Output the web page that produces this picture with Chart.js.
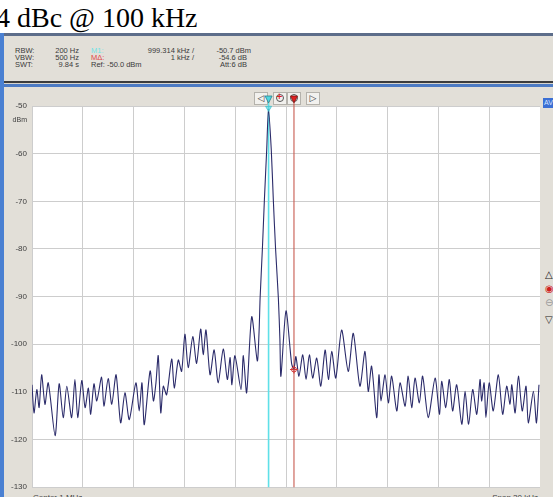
<!DOCTYPE html>
<html>
<head>
<meta charset="utf-8">
<script src="https://cdn.jsdelivr.net/npm/chart.js@4.4.1/dist/chart.umd.min.js"></script>
<style>
  html, body { margin: 0; padding: 0; background: #fff; }
  body { width: 553px; height: 497px; position: relative; overflow: hidden; font-family: "Liberation Sans", sans-serif; }
  .abs { position: absolute; }
  .title { left: -4px; top: 4px; font-family: "Liberation Serif", serif; font-size: 28px; line-height: 28px; color: #000; white-space: nowrap; }
  .frame-top { left: 0; top: 33px; width: 553px; height: 3px; background: #5d6d8a; }
  .frame-left { left: 0; top: 33px; width: 4px; height: 464px; background: #4a80d2; }
  .header { left: 4px; top: 36px; width: 549px; height: 45px; background: #e2dfd8; }
  .sep-dark { left: 4px; top: 81px; width: 549px; height: 2px; background: #3c3c3c; }
  .sep-gap { left: 4px; top: 83px; width: 549px; height: 1px; background: #d8d5ce; }
  .sep-blue { left: 4px; top: 84px; width: 549px; height: 3px; background: #4d7bc4; }
  .panel { left: 4px; top: 87px; width: 549px; height: 410px; background: #e2dfd8; }
  .t { position: absolute; font-size: 7.5px; line-height: 10px; color: #3a3a3a; white-space: nowrap; }
  .btn { position: absolute; top: 92px; height: 11px; width: 12px; background: #f2f1ee; border: 1px solid #b4b2ac; z-index: 1;
         font-family: "DejaVu Sans", sans-serif; font-size: 9px; line-height: 11px; text-align: center; color: #333; }
  .lens { position: absolute; left: 2px; top: 1px; width: 6px; height: 6px; border: 1.5px solid #555; border-radius: 50%; }
  .plus { position: absolute; left: 2px; top: -1px; width: 6px; font-size: 8px; line-height: 10px; color: #e02020; font-weight: bold; }
  .side { position: absolute; left: 545px; font-family: "DejaVu Sans", sans-serif; font-size: 10px; line-height: 10px; color: #222; }
  canvas { position: absolute; left: 4px; top: 87px; z-index: 2; }
</style>
</head>
<body>
<div class="abs title">4 dBc @ 100 kHz</div>
<div class="abs frame-top"></div>
<div class="abs header"></div>
<div class="abs sep-dark"></div>
<div class="abs sep-gap"></div>
<div class="abs sep-blue"></div>
<div class="abs panel"></div>
<div class="abs frame-left"></div>

<div class="t" style="left:15px; top:46px;">RBW:</div>
<div class="t" style="left:15px; top:53px;">VBW:</div>
<div class="t" style="left:15px; top:60px;">SWT:</div>
<div class="t" style="right:474px; top:46px;">200 Hz</div>
<div class="t" style="right:474px; top:53px;">500 Hz</div>
<div class="t" style="right:474px; top:60px;">9.84 s</div>
<div class="t" style="left:91px; top:46px; color:#6fe3e6;">M1:</div>
<div class="t" style="left:91px; top:53px; color:#e04545;">M&#916;:</div>
<div class="t" style="left:91px; top:60px;">Ref:</div>
<div class="t" style="right:359px; top:46px;">999.314 kHz /</div>
<div class="t" style="right:359px; top:53px;">1 kHz /</div>
<div class="t" style="left:107px; top:60px;">-50.0 dBm</div>
<div class="t" style="right:302px; top:46px;">-50.7 dBm</div>
<div class="t" style="right:306px; top:53px;">-54.6 dB</div>
<div class="t" style="left:220px; top:60px;">Att:</div>
<div class="t" style="right:306px; top:60px;">6 dB</div>

<div class="btn" style="left:254px;">&#9665;</div>
<div class="btn" style="left:273px;"><div class="lens"></div><div class="plus">+</div></div>
<div class="btn" style="left:287px;"><div class="lens"></div></div>
<div class="btn" style="left:306px;">&#9655;</div>

<div class="t" style="left:543px; top:98px; width:12px; height:10px; background:#3b6fd4; color:#d8e6ff; font-size:7px; padding-left:1px;">AV</div>
<div class="side" style="top:270px;">&#9651;</div>
<div class="side" style="top:284px; color:#d02020;">&#9673;</div>
<div class="side" style="top:298px; color:#9a9a9a;">&#8854;</div>
<div class="side" style="top:315px;">&#9661;</div>

<div class="t" style="left:33px; top:493px; color:#444; font-size:8px;">Center 1 MHz</div>
<div class="t" style="right:15px; top:493px; color:#444; font-size:8px;">Span 20 kHz</div>

<canvas id="spectrum" width="536" height="410"></canvas>

<script>
// Trace: frequency (kHz) and level (dBm)
const freqKHz = [
  990.00, 990.08, 990.19, 990.28, 990.38, 990.51, 990.64, 990.91, 991.07, 991.23,
  991.37, 991.56, 991.69, 991.80, 991.96, 992.09, 992.22, 992.31, 992.44, 992.55,
  992.74, 992.83, 993.00, 993.14, 993.31, 993.49, 993.66, 993.83, 994.09, 994.22,
  994.33, 994.42, 994.65, 994.78, 994.88, 994.97, 995.07, 995.17, 995.30, 995.50,
  995.60, 995.76, 995.89, 996.02, 996.15, 996.33, 996.48, 996.64, 996.74, 996.85,
  997.01, 997.17, 997.33, 997.53, 997.69, 997.80, 997.87, 997.99, 998.23, 998.32,
  998.45, 998.65, 998.87, 998.94, 998.98, 999.07, 999.15, 999.24, 999.31, 999.42,
  999.50, 999.59, 999.70, 999.76, 999.80, 1000.00, 1000.22, 1000.31, 1000.39, 1000.51,
  1000.66, 1000.79, 1000.92, 1001.05, 1001.21, 1001.37, 1001.54, 1001.67, 1001.80, 1001.96,
  1002.19, 1002.45, 1002.65, 1002.91, 1003.11, 1003.24, 1003.37, 1003.57, 1003.66, 1003.74,
  1003.90, 1004.03, 1004.16, 1004.36, 1004.49, 1004.69, 1004.81, 1004.95, 1005.08, 1005.25,
  1005.38, 1005.60, 1005.87, 1006.04, 1006.13, 1006.29, 1006.43, 1006.56, 1006.72, 1006.92,
  1007.05, 1007.19, 1007.35, 1007.51, 1007.64, 1007.70, 1007.80, 1007.87, 1008.00, 1008.16,
  1008.36, 1008.53, 1008.69, 1008.82, 1008.89, 1009.02, 1009.15, 1009.30, 1009.45, 1009.54,
  1009.74, 1009.86, 1009.96
];
const levelDbm = [
  -108.5, -114.4, -109.5, -113.3, -106.4, -112.6, -108.1, -119.2, -108.3, -115.4,
  -108.8, -115.4, -107.4, -115.4, -107.6, -113.3, -109.2, -114.7, -108.3, -111.9,
  -106.9, -113.0, -107.2, -112.6, -106.4, -116.5, -110.2, -115.8, -108.1, -114.0,
  -108.1, -116.9, -105.6, -111.9, -108.1, -102.4, -114.4, -108.8, -110.6, -103.1,
  -109.2, -103.3, -105.7, -97.9, -104.9, -98.4, -104.0, -96.8, -102.2, -97.0,
  -106.4, -101.2, -108.1, -101.0, -107.4, -102.8, -108.5, -102.4, -109.5, -102.4,
  -110.2, -94.2, -103.5, -97.3, -90.4, -80.0, -69.6, -59.2, -50.7, -59.2,
  -69.6, -80.0, -90.4, -99.0, -106.7, -93.0, -104.0, -105.3, -102.6, -106.7,
  -102.2, -107.4, -102.2, -107.1, -102.9, -108.8, -101.2, -107.4, -101.5, -107.1,
  -97.0, -105.7, -97.7, -108.8, -101.5, -109.9, -104.6, -115.4, -106.4, -111.9,
  -106.4, -112.3, -106.7, -114.0, -108.1, -113.0, -106.7, -113.3, -107.1, -112.3,
  -106.7, -115.4, -107.1, -114.7, -107.8, -113.3, -107.4, -114.0, -108.5, -116.8,
  -109.9, -116.8, -109.5, -114.7, -107.4, -111.9, -108.1, -115.4, -108.1, -114.0,
  -106.4, -114.7, -108.8, -112.6, -108.5, -114.4, -106.7, -114.0, -108.8, -116.5,
  -109.9, -116.5, -108.5
];

// Axis settings
const fStart = 990, fStop = 1010, fStep = 2;
const refLevel = -50, bottomLevel = -130, levelStep = 10;

// Markers
const m1Freq = 999.314, m1Level = -50.7;
const mDeltaFreq = 1000.314, mDeltaLevel = -105.3;

const plotBg = {
    id: 'plotBg',
    beforeDraw(chart) {
        const { ctx, chartArea: a } = chart;
        ctx.save();
        ctx.fillStyle = '#ffffff';
        ctx.fillRect(a.left, a.top, a.right - a.left, a.bottom - a.top);
        ctx.restore();
    }
};

function downTriangle(ctx, x, yTop, w, h, fill, stroke) {
    ctx.beginPath();
    ctx.moveTo(x - w / 2, yTop);
    ctx.lineTo(x + w / 2, yTop);
    ctx.lineTo(x, yTop + h);
    ctx.closePath();
    ctx.fillStyle = fill;
    ctx.fill();
    ctx.strokeStyle = stroke;
    ctx.lineWidth = 0.8;
    ctx.stroke();
}

const markers = {
    id: 'markers',
    beforeDatasetsDraw(chart) {
        const { ctx, chartArea: a, scales: { x } } = chart;
        ctx.save();
        // marker lines
        ctx.strokeStyle = '#5fe0e8';
        ctx.lineWidth = 1.6;
        ctx.beginPath();
        ctx.moveTo(x.getPixelForValue(m1Freq), a.top - 3);
        ctx.lineTo(x.getPixelForValue(m1Freq), a.bottom);
        ctx.stroke();
        ctx.strokeStyle = '#c85a50';
        ctx.lineWidth = 1.1;
        ctx.beginPath();
        ctx.moveTo(x.getPixelForValue(mDeltaFreq), a.top - 3);
        ctx.lineTo(x.getPixelForValue(mDeltaFreq), a.bottom);
        ctx.stroke();
        ctx.restore();
    },
    afterDatasetsDraw(chart) {
        const { ctx, chartArea: a, scales: { x, y } } = chart;
        ctx.save();
        const x1 = x.getPixelForValue(m1Freq);
        const x2 = x.getPixelForValue(mDeltaFreq);
        // marker flags in the toolbar
        downTriangle(ctx, x1, a.top - 10, 7, 7, '#4fd6e0', '#2a7d88');
        downTriangle(ctx, x2, a.top - 10, 7, 7, '#e02020', '#801010');
        // M1 symbol on the peak
        downTriangle(ctx, x1, y.getPixelForValue(m1Level) - 3, 6, 5, 'rgba(80,214,224,0.6)', '#40c0cc');
        // delta marker symbol
        const py = y.getPixelForValue(mDeltaLevel);
        ctx.strokeStyle = '#d03a3a';
        ctx.lineWidth = 1;
        ctx.beginPath();
        ctx.arc(x2, py, 2.5, 0, Math.PI * 2);
        ctx.moveTo(x2 - 4, py); ctx.lineTo(x2 + 4, py);
        ctx.moveTo(x2, py - 4); ctx.lineTo(x2, py + 4);
        ctx.stroke();
        // unit under the reference level
        ctx.fillStyle = '#404040';
        ctx.font = '7px "Liberation Sans"';
        ctx.textAlign = 'right';
        ctx.textBaseline = 'middle';
        ctx.fillText('dBm', a.left - 5, a.top + 14);
        ctx.restore();
    }
};

const ctx = document.getElementById('spectrum').getContext('2d');

const spectrumChart = new Chart(ctx, {
    type: 'line',
    data: {
        datasets: [{
            data: freqKHz.map((f, i) => ({ x: f, y: levelDbm[i] })),
            borderColor: '#2b2b6a',
            borderWidth: 1.1,
            pointRadius: 0,
            tension: 0.25,
            fill: false
        }]
    },
    options: {
        responsive: false,
        animation: false,
        layout: { padding: { top: 19, bottom: 7, left: 0, right: 0 } },
        plugins: {
            legend: { display: false },
            tooltip: { enabled: false }
        },
        scales: {
            x: {
                type: 'linear',
                min: fStart,
                max: fStop,
                ticks: { stepSize: fStep, display: false },
                grid: { color: '#cdcdcd', drawTicks: false },
                border: { display: false },
                afterFit: (axis) => { axis.height = 0; }
            },
            y: {
                min: bottomLevel,
                max: refLevel,
                ticks: {
                    stepSize: levelStep,
                    color: '#404040',
                    font: { family: 'Liberation Sans', size: 8 },
                    padding: 5
                },
                grid: { color: '#cdcdcd', drawTicks: false },
                border: { display: false },
                afterFit: (axis) => { axis.width = 28; }
            }
        }
    },
    plugins: [plotBg, markers]
});
</script>
</body>
</html>
